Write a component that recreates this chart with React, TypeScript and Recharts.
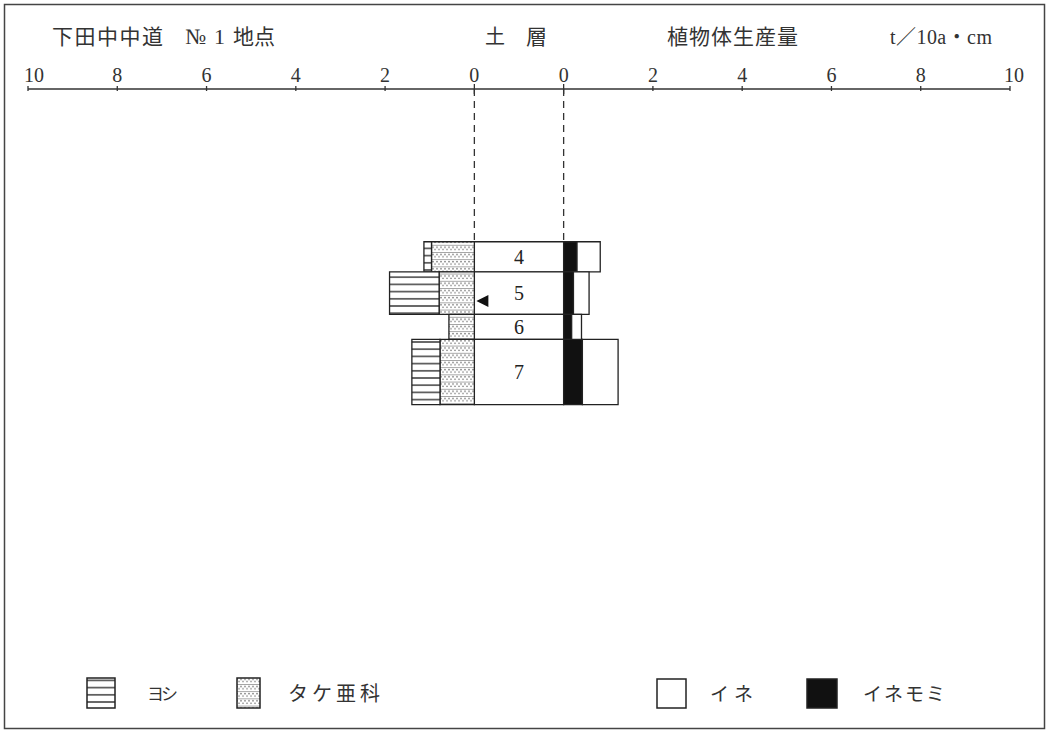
import React from 'react';
import { ComposedChart, XAxis, YAxis, ReferenceArea, ReferenceLine, Scatter } from 'recharts';

// ---- data ----
const layers = ['4', '5', '6', '7'];
const layerTop = [30.5, 36.5, 45, 50];      // depth (relative units)
const layerBottom = [36.5, 45, 50, 63];
const yoshi = [0.17, 1.11, 0, 0.63];        // ヨシ  t/10a·cm (left)
const take = [0.96, 0.79, 0.57, 0.77];      // タケ亜科 (left)
const inemomi = [0.30, 0.22, 0.18, 0.42];   // イネモミ (right)
const ine = [0.52, 0.35, 0.22, 0.80];       // イネ (right)
const tickLabels = [0, 2, 4, 6, 8, 10];
const markerPoints = [{ offset: 0.18, depth: 42.3 }]; // ◀ mark in layer 5

const HALF = 1; // half width of soil column, axis units
const toLeft = (v: number) => -(v + HALF);
const toRight = (v: number) => v + HALF;
const xTicks = [...tickLabels.map(toLeft).reverse(), ...tickLabels.map(toRight)];
const markerData = markerPoints.map((m) => ({ x: -HALF + m.offset, y: m.depth }));

const SERIF = '"Liberation Serif", "Noto Sans CJK JP", serif';
const CJK = '"Noto Sans CJK JP", "Liberation Serif", serif';
const INK = '#222';

const AxisTick = (props: any) => {
  const { x, y, payload } = props;
  const v = payload.value as number;
  const label = String(Math.abs(v) - HALF);
  const isZero = Math.abs(v) === HALF;
  const dx = v === -11 ? 6 : v === 11 ? 4 : 0;
  return (
    <g>
      <line x1={x} x2={x} y1={y - (isZero ? 5 : 3)} y2={y + (isZero ? 5 : 2)} stroke="#333" strokeWidth={1.3} />
      <text x={x + dx} y={y - 7} textAnchor="middle" fontFamily={SERIF} fontSize={20} fill="#333">
        {label}
      </text>
    </g>
  );
};

const Triangle = (props: any) => {
  const { cx, cy } = props;
  return <polygon points={`${cx - 6},${cy} ${cx + 6},${cy - 6} ${cx + 6},${cy + 6}`} fill="#111" />;
};

export default function App() {
  const areaCommon = { fillOpacity: 1, stroke: INK, strokeWidth: 1.3, ifOverflow: 'visible' as const };
  return (
    <div style={{ position: 'absolute', left: 0, top: 0, width: 1049, height: 731, background: '#fff' }}>
      <svg width={1049} height={731} style={{ position: 'absolute', left: 0, top: 0 }}>
        <defs>
          <pattern id="yoshiPat" patternUnits="userSpaceOnUse" width={8} height={7.2}>
            <rect width={8} height={7.2} fill="#fff" />
            <line x1={0} x2={8} y1={3.6} y2={3.6} stroke={INK} strokeWidth={1.3} />
          </pattern>
          <pattern id="takePat" patternUnits="userSpaceOnUse" width={4} height={7.2}>
            <rect width={4} height={7.2} fill="#fff" />
            <line x1={0} x2={4} y1={0.4} y2={0.4} stroke="#777" strokeWidth={0.7} />
            <circle cx={1} cy={2.4} r={0.75} fill="#666" />
            <circle cx={3} cy={4.8} r={0.75} fill="#666" />
          </pattern>
        </defs>
        <rect x={4.5} y={4.5} width={1040} height={724} fill="#fff" stroke="#444" strokeWidth={1.5} />
      </svg>
      <div style={{ position: 'absolute', left: 0, top: 0 }}>
        <ComposedChart width={1049} height={731} margin={{ top: 59, right: 39, bottom: 81, left: 28 }}>
          <XAxis
            xAxisId="x"
            type="number"
            dataKey="x"
            domain={[-11, 11]}
            ticks={xTicks}
            interval={0}
            orientation="top"
            height={30}
            tickSize={0}
            tickMargin={0}
            tickLine={false}
            tick={(p: any) => <AxisTick {...p} />}
            axisLine={{ stroke: '#333', strokeWidth: 1.5 }}
            allowDataOverflow
          />
          <YAxis yAxisId="y" type="number" dataKey="y" domain={[0, 112]} reversed hide allowDataOverflow />
          {[-HALF, HALF].map((xv) => (
            <ReferenceLine
              key={'d' + xv}
              xAxisId="x"
              yAxisId="y"
              segment={[{ x: xv, y: 0 }, { x: xv, y: layerTop[0] }]}
              stroke="#333"
              strokeWidth={1.3}
              strokeDasharray="7 5"
              ifOverflow="visible"
            />
          ))}
          {layers.map((name, i) => (
            <ReferenceArea
              key={'soil' + name}
              xAxisId="x"
              yAxisId="y"
              x1={-HALF}
              x2={HALF}
              y1={layerTop[i]}
              y2={layerBottom[i]}
              fill="#fff"
              {...areaCommon}
              label={{ value: name, position: 'center', fontSize: 20, fill: INK, fontFamily: SERIF }}
            />
          ))}
          {layers.map((name, i) => (
            <ReferenceArea
              key={'take' + name}
              xAxisId="x"
              yAxisId="y"
              x1={toLeft(take[i])}
              x2={toLeft(0)}
              y1={layerTop[i]}
              y2={layerBottom[i]}
              fill="url(#takePat)"
              {...areaCommon}
            />
          ))}
          {layers.map((name, i) =>
            yoshi[i] > 0 ? (
              <ReferenceArea
                key={'yoshi' + name}
                xAxisId="x"
                yAxisId="y"
                x1={toLeft(take[i] + yoshi[i])}
                x2={toLeft(take[i])}
                y1={layerTop[i]}
                y2={layerBottom[i]}
                fill="url(#yoshiPat)"
                {...areaCommon}
              />
            ) : null
          )}
          {layers.map((name, i) => (
            <ReferenceArea
              key={'momi' + name}
              xAxisId="x"
              yAxisId="y"
              x1={toRight(0)}
              x2={toRight(inemomi[i])}
              y1={layerTop[i]}
              y2={layerBottom[i]}
              fill="#111"
              {...areaCommon}
            />
          ))}
          {layers.map((name, i) => (
            <ReferenceArea
              key={'ine' + name}
              xAxisId="x"
              yAxisId="y"
              x1={toRight(inemomi[i])}
              x2={toRight(inemomi[i] + ine[i])}
              y1={layerTop[i]}
              y2={layerBottom[i]}
              fill="#fff"
              {...areaCommon}
            />
          ))}
          <Scatter xAxisId="x" yAxisId="y" data={markerData} dataKey="y" shape={Triangle} isAnimationActive={false} />
        </ComposedChart>
      </div>
      <svg width={1049} height={731} style={{ position: 'absolute', left: 0, top: 0, pointerEvents: 'none' }}>
        {/* header */}
        <g fill="#333">
          <text x={52} y={44} fontFamily={CJK} fontSize={21} textLength={111} lengthAdjust="spacing">下田中中道</text>
          <text x={185} y={44} fontFamily={SERIF} fontSize={22} textLength={40} lengthAdjust="spacing">№1</text>
          <text x={233} y={44} fontFamily={CJK} fontSize={21} textLength={42} lengthAdjust="spacing">地点</text>
          <text x={485} y={44} fontFamily={CJK} fontSize={20}>土</text>
          <text x={526} y={44} fontFamily={CJK} fontSize={21}>層</text>
          <text x={667} y={44} fontFamily={CJK} fontSize={21} textLength={131} lengthAdjust="spacing">植物体生産量</text>
          <text x={890} y={44} fontFamily={SERIF} fontSize={20} textLength={102} lengthAdjust="spacing">t／10a・cm</text>
        </g>
        {/* legend */}
        <rect x={87} y={678} width={28} height={30} fill="url(#yoshiPat)" stroke={INK} strokeWidth={1.5} />
        <text x={147} y={700} fontFamily={CJK} fontSize={17} fill="#333" textLength={31} lengthAdjust="spacing">ヨシ</text>
        <rect x={237} y={678} width={23} height={30} fill="url(#takePat)" stroke={INK} strokeWidth={1.5} />
        <text x={288} y={701} fontFamily={CJK} fontSize={20} fill="#333" textLength={92} lengthAdjust="spacing">タケ亜科</text>
        <rect x={657} y={679} width={29} height={29} fill="#fff" stroke={INK} strokeWidth={1.5} />
        <text x={710} y={701} fontFamily={CJK} fontSize={19} fill="#333" textLength={43} lengthAdjust="spacing">イネ</text>
        <rect x={807} y={679} width={30} height={29} fill="#111" stroke={INK} strokeWidth={1.5} />
        <text x={863} y={701} fontFamily={CJK} fontSize={19} fill="#333" textLength={82} lengthAdjust="spacing">イネモミ</text>
      </svg>
    </div>
  );
}
